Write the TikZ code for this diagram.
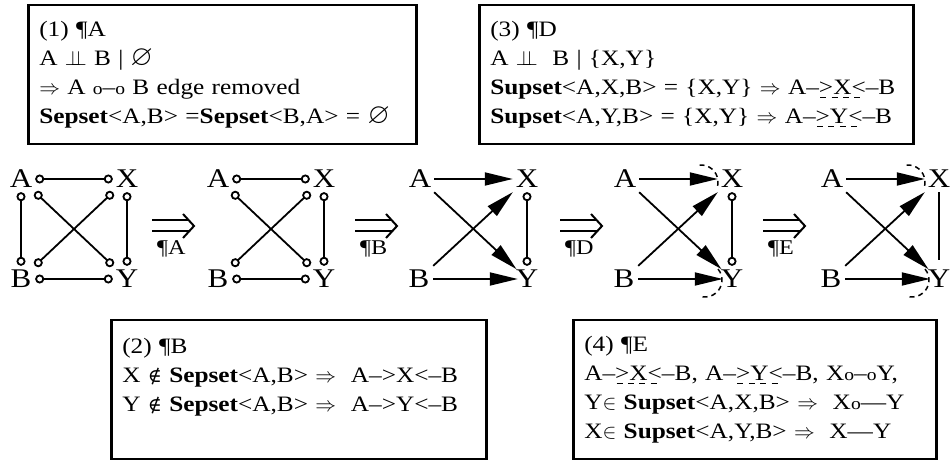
\documentclass[tikz,border=0pt]{standalone}
\usepackage{amsmath,amssymb}
\usepackage{fontspec}
\setmainfont{Liberation Serif}[FakeStretch=1.15]
\newfontfamily\symfont{DejaVu Serif}
\usepackage{tikz}
\usetikzlibrary{arrows.meta,positioning}
\newcommand{\indep}{\ensuremath{\perp\!\!\!\perp}}
\newcommand{\smo}{{\fontsize{17}{17}\selectfont o}}
\newcommand{\nullset}{\scalebox{1.3}{$\varnothing$}}
\newcommand{\notelem}{{\symfont\fontsize{19}{19}\selectfont ∉}}
\newsavebox{\dulbox}
\newcommand{\dul}[1]{\sbox{\dulbox}{#1}\rlap{\raisebox{-3.5pt}{\hbox to \wd\dulbox{\xleaders\hbox{\vrule width 6pt height 1.4pt\hskip 4pt}\hfill}}}\usebox{\dulbox}}
\tikzset{impl/.pic={
    \draw[line width=2pt] (0,5.5)--(37,5.5) (0,-5.5)--(37,-5.5);
    \draw[line width=2pt,line join=miter] (31,12)--(42,0)--(31,-12);}}

\begin{document}
\begin{tikzpicture}[x=1pt, y=1pt, >=Stealth,
    vtx/.style={minimum width=28pt,minimum height=26pt,inner sep=0pt,font=\fontsize{27}{27}\selectfont},
    rule/.style={draw=black,line width=2.5pt,anchor=north west,minimum height=139pt,inner xsep=11pt,align=left,font=\fontsize{22}{29}\selectfont},
    lbl/.style={anchor=base west,inner sep=0pt,font=\fontsize{21}{21}\selectfont},
    oo/.style={draw=black,line width=1.8pt,{Circle[open,length=9pt,width=9pt]}-{Circle[open,length=9pt,width=9pt]}},
    line/.style={draw=black,line width=1.8pt,-{Triangle[length=28pt,width=13pt]}},
    toY/.style={shorten >=-5pt},
    tipmark/.style={draw=black,dashed,dash pattern=on 5pt off 4pt,line width=1.5pt}]
    \useasboundingbox (0,0) rectangle (951,460);
    % rule boxes
    \node[rule,text width=366pt] (R1) at (27,456) {(1) ¶A\\
      A \indep{} B | \nullset\\
      $\Rightarrow$ A \smo--\smo{} B edge removed\\
      \textbf{Sepset}<A,B> =\textbf{Sepset}<B,A> = \nullset};
    \node[rule,text width=412pt] (R3) at (478,456) {(3) ¶D\\
      A \indep\ \ B | \{X,Y\}\\
      \textbf{Supset}<A,X,B> = \{X,Y\} $\Rightarrow$ A--\dul{>X<}--B\\
      \textbf{Supset}<A,Y,B> = \{X,Y\} $\Rightarrow$ A--\dul{>Y<}--B};
    \node[rule,text width=353pt] (R2) at (110,141) {(2) ¶B\\
      X \notelem\ \textbf{Sepset}<A,B> $\Rightarrow$\ \ A-->X<--B\\
      Y \notelem\ \textbf{Sepset}<A,B> $\Rightarrow$\ \ A-->Y<--B\\ \mbox{}};
    \node[rule,text width=341pt] (R4) at (572,141) {(4) ¶E\\
      A--\dul{>X<}--B, A--\dul{>Y<}--B, X\smo--\smo Y,\\
      Y$\in$ \textbf{Supset}<A,X,B> $\Rightarrow$\ \ X\smo---Y\\
      X$\in$ \textbf{Supset}<A,Y,B> $\Rightarrow$\ \ X---Y};
    % graph 1
    \node[vtx] (A1) at (21,281) {A}; \node[vtx] (X1) at (127,281) {X};
    \node[vtx] (B1) at (21,181) {B}; \node[vtx] (Y1) at (127,181) {Y};
    \path[oo] (A1)--(X1); \path[oo] (A1)--(B1); \path[oo] (A1)--(Y1);
    \path[oo] (X1)--(B1); \path[oo] (X1)--(Y1); \path[oo] (B1)--(Y1);
    % graph 2
    \node[vtx] (A2) at (218,281) {A}; \node[vtx] (X2) at (324,281) {X};
    \node[vtx] (B2) at (218,181) {B}; \node[vtx] (Y2) at (324,181) {Y};
    \path[oo] (A2)--(X2); \path[oo] (A2)--(Y2);
    \path[oo] (X2)--(B2); \path[oo] (X2)--(Y2); \path[oo] (B2)--(Y2);
    % graph 3
    \node[vtx] (A3) at (420,281) {A}; \node[vtx] (X3) at (527,281) {X};
    \node[vtx] (B3) at (419,181) {B}; \node[vtx] (Y3) at (527,181) {Y};
    \path[line] (A3)--(X3); \path[line,toY] (A3)--(Y3);
    \path[line] (B3)--(X3); \path[line,toY] (B3)--(Y3); \path[oo] (X3)--(Y3);
    % graph 4
    \node[vtx] (A4) at (625,281) {A}; \node[vtx] (X4) at (732,281) {X};
    \node[vtx] (B4) at (624,181) {B}; \node[vtx] (Y4) at (732,181) {Y};
    \path[line] (A4)--(X4); \path[line,toY] (A4)--(Y4);
    \path[line] (B4)--(X4); \path[line,toY] (B4)--(Y4); \path[oo] (X4)--(Y4);
    \draw[tipmark] ([shift={(-31,-3)}]X4.center) ++(95:17) arc[start angle=95,end angle=-25,radius=17];
    \draw[tipmark] ([shift={(-27,-1)}]Y4.center) ++(40:17) arc[start angle=40,end angle=-100,radius=17];
    % graph 5
    \node[vtx] (A5) at (832,281) {A}; \node[vtx] (X5) at (939,281) {X};
    \node[vtx] (B5) at (831,181) {B}; \node[vtx] (Y5) at (939,181) {Y};
    \path[line] (A5)--(X5); \path[line,toY] (A5)--(Y5);
    \path[line] (B5)--(X5); \path[line,toY] (B5)--(Y5);
    \draw[line width=1.8pt,shorten >=6pt] (X5)--(Y5);
    \draw[tipmark] ([shift={(-31,-3)}]X5.center) ++(95:17) arc[start angle=95,end angle=-25,radius=17];
    \draw[tipmark] ([shift={(-27,-1)}]Y5.center) ++(40:17) arc[start angle=40,end angle=-100,radius=17];
    % transitions
    \node[lbl] (pA) at (157,205) {¶A}; \pic at ([shift={(-5,29)}]pA.base west) {impl};
    \node[lbl] (pB) at (360,205) {¶B}; \pic at ([shift={(-5,29)}]pB.base west) {impl};
    \node[lbl] (pD) at (565,205) {¶D}; \pic at ([shift={(-5,29)}]pD.base west) {impl};
    \node[lbl] (pE) at (768,205) {¶E}; \pic at ([shift={(-5,29)}]pE.base west) {impl};
  \end{tikzpicture}
\end{document}
